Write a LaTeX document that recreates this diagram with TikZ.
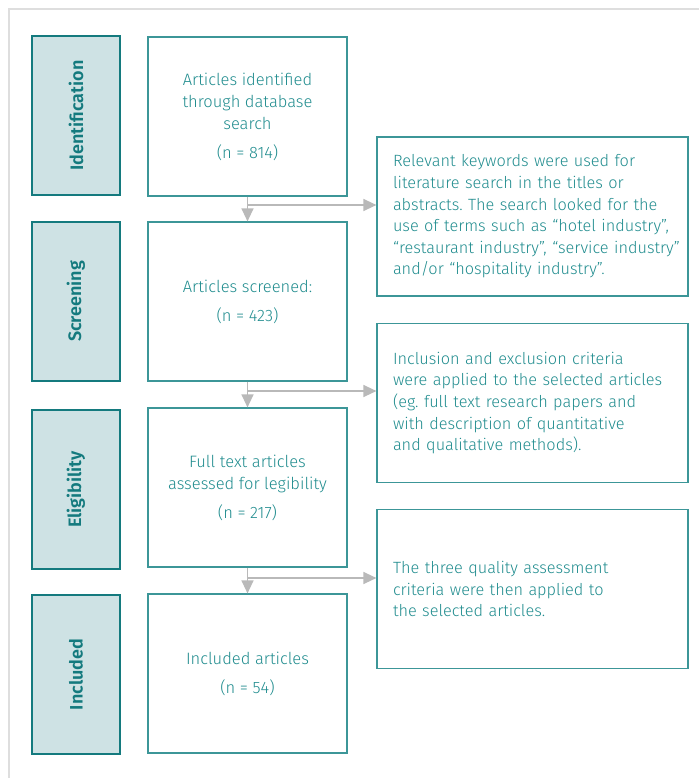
\documentclass[tikz,border=0pt]{standalone}
\usepackage{fontspec}
\setmainfont{Fira Sans Light}[BoldFont=Fira Sans SemiBold]
\usetikzlibrary{arrows.meta}
\frenchspacing

\definecolor{tealtext}{RGB}{32,140,142}
\definecolor{tealdark}{RGB}{20,122,126}
\definecolor{tealline}{RGB}{60,150,152}
\definecolor{stagefill}{RGB}{206,226,228}
\definecolor{arrowgray}{RGB}{185,185,185}
\definecolor{framegray}{RGB}{222,222,222}

\tikzset{
  stage/.style={draw=tealdark, fill=stagefill, line width=1.2pt, rotate=90,
    minimum width=159pt, minimum height=88pt, inner sep=0pt,
    text=tealdark, font=\fontsize{18}{20}\selectfont\bfseries},
  mainbox/.style={draw=tealline, line width=1.2pt, minimum width=199pt,
    minimum height=159pt, align=center, text=tealtext,
    font=\fontsize{16.5}{22}\selectfont},
  sidebox/.style={draw=tealline, line width=1.2pt, minimum width=311pt,
    minimum height=159pt, inner xsep=5.5pt, text width=300pt, align=left,
    execute at begin node={\leftskip=10.5pt\relax},
    text=tealtext, font=\fontsize{16.3}{21.6}\selectfont},
  flow/.style={arrowgray, line width=1.3pt, -{Triangle[length=13pt,width=12pt]}}
}

\begin{document}
\begin{tikzpicture}[x=1pt,y=-1pt]
\useasboundingbox (0,0) rectangle (699,778);
\draw[framegray, line width=1.5pt] (9,778) |- (699,9);

% stages
\node[stage] (sid) at (76,115.5) {Identification};
\node[stage] (sscr) at (76,301.5) {Screening};
\node[stage] (selig) at (76,489.5) {Eligibility};
\node[stage] (sincl) at (76,674.5) {Included};

% main flow
\node[mainbox] (ident) at (247.5,116.5) {Articles identified\\through database\\search\\[7pt](n = 814)};
\node[mainbox] (screen) at (247.5,301.5) {Articles screened:\\[7pt](n = 423)};
\node[mainbox] (elig) at (247.5,487.5) {Full text articles\\assessed for legibility\\[7pt](n = 217)};
\node[mainbox] (incl) at (247.5,673.5) {Included articles\\[7pt](n = 54)};

% notes
\node[sidebox] (note1) at (532.5,216.5) {Relevant keywords were used for\\literature search in the titles or\\abstracts. The search looked for the\\use of terms such as “hotel industry”,\\“restaurant industry”, “service industry”\\and/or “hospitality industry”.};
\node[sidebox] (note2) at (532.5,403) {Inclusion and exclusion criteria\\were applied to the selected articles\\(eg. full text research papers and\\with description of quantitative\\and qualitative methods).};
\node[sidebox] (note3) at (532.5,589) {The three quality assessment\\criteria were then applied to\\the selected articles.};

% arrows
\draw[flow] (ident) -- (screen);
\draw[flow] (screen) -- (elig);
\draw[flow] (elig) -- (incl);

\coordinate (b1) at (247.5,205);
\coordinate (b2) at (247.5,391);
\coordinate (b3) at (247.5,578);
\draw[flow] (b1) -- (b1 -| note1.west);
\draw[flow] (b2) -- (b2 -| note2.west);
\draw[flow] (b3) -- (b3 -| note3.west);
\end{tikzpicture}
\end{document}
